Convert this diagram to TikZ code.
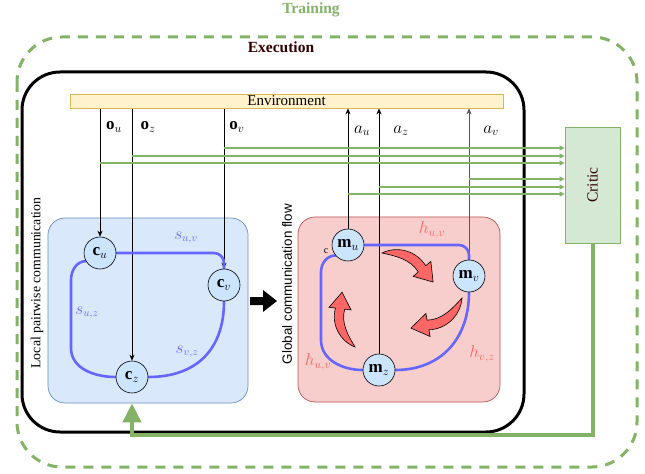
\documentclass[tikz,border=0pt]{standalone}
\usepackage{fontspec}
\setmainfont{Liberation Serif}
\newfontfamily\sansfont{Liberation Sans}
\usetikzlibrary{arrows.meta}
\definecolor{trgreen}{HTML}{82B366}
\definecolor{critfill}{HTML}{D5E8D4}
\definecolor{execcol}{HTML}{330000}
\definecolor{envfill}{HTML}{FFF2CC}
\definecolor{envdraw}{HTML}{D6B656}
\definecolor{bluefill}{HTML}{DAE8FC}
\definecolor{bluedraw}{HTML}{6C8EBF}
\definecolor{redfill}{HTML}{F8CECC}
\definecolor{reddraw}{HTML}{B85450}
\definecolor{agentfill}{HTML}{CCE5FF}
\definecolor{commblue}{HTML}{6666FF}
\definecolor{hred}{HTML}{FF6666}
\definecolor{actgray}{HTML}{555555}
\pgfdeclarelayer{back}
\pgfdeclarelayer{linesa}
\pgfdeclarelayer{linesb}
\pgfsetlayers{back,linesa,linesb,main}
\tikzset{
  curvarrow/.pic={
    \filldraw[fill=hred, draw=black, line width=0.6bp]
      (0,0) .. controls (12,8) and (29,6) .. (38.8,-5.9) -- (42.7,-1.6) -- (47,-19)
      -- (29.3,-16.4) -- (33.2,-12.1) .. controls (25,-2) and (12,-1) .. (0,0) -- cycle;
  }
}
\begin{document}
\begin{tikzpicture}[x=1bp,y=1bp,
  lbl/.style={font=\fontsize{17bp}{19bp}\selectfont, inner sep=0},
  slbl/.style={font=\fontsize{16bp}{18bp}\selectfont, inner sep=0},
  agent/.style={circle, draw=black, line width=0.6bp, fill=agentfill, minimum size=32bp, inner sep=0, font=\fontsize{17bp}{19bp}\selectfont},
  obsarrow/.style={draw=black, line width=0.7bp, -{Stealth[length=6bp,width=5bp]}},
  critarrow/.style={draw=trgreen, line width=1.3bp, -{Triangle[length=5bp,width=5bp]}},
  commline/.style={draw=commblue, line width=2.6bp, line cap=round},
  boxstyle/.style={rounded corners=17bp, minimum width=200bp, minimum height=185bp, inner sep=0, line width=0.7bp}
]
\useasboundingbox (0,0) rectangle (645,-474);

% titles and frames
\node[font=\bfseries\fontsize{15.5bp}{18bp}\selectfont, text=trgreen] (training) at (311,-10) {Training};
\node[font=\bfseries\fontsize{15.5bp}{18bp}\selectfont, text=execcol] (execution) at (281,-47) {Execution};
\begin{pgfonlayer}{back}
\draw[trgreen, line width=3bp, dash pattern=on 10bp off 8bp, rounded corners=45bp] (17,-37) rectangle (637,-467);
\draw[black, line width=3bp, rounded corners=38bp] (22,-72) rectangle (524,-432);
\node[boxstyle, draw=bluedraw, fill=bluefill] (localbox) at (148,-310.5) {};
\node[boxstyle, draw=reddraw, fill=redfill, minimum width=202bp] (globalbox) at (399,-309.5) {};
\end{pgfonlayer}

\node[draw=envdraw, fill=envfill, minimum width=433bp, minimum height=14bp, inner sep=0, line width=0.7bp,
      font=\fontsize{15bp}{17bp}\selectfont] (env) at (286.5,-101) {Environment};
\node[draw=trgreen, fill=critfill, minimum width=55bp, minimum height=116bp, line width=0.8bp] (critic) at (592.5,-185) {};
\node[rotate=90, text=execcol, font=\fontsize{15.5bp}{17bp}\selectfont] (critictext) at (critic.center) {Critic};

\node[rotate=90, font=\fontsize{13.8bp}{16bp}\selectfont] (locallbl) at (37,-283) {Local pairwise communication};
\node[rotate=90, font=\sansfont\fontsize{13.4bp}{16bp}\selectfont] (globallbl) at (287,-284) {Global communication flow};

% agents
\node[agent] (cu) at (100,-253) {$\mathbf{c}_u$};
\node[agent] (cv) at (224,-285) {$\mathbf{c}_v$};
\node[agent] (cz) at (132,-377) {$\mathbf{c}_z$};
\node[agent] (mu) at (348,-245) {$\mathbf{m}_u$};
\node[agent] (mv) at (469,-276) {$\mathbf{m}_v$};
\node[agent] (mz) at (379,-370) {$\mathbf{m}_z$};

% observation / action lines
\begin{pgfonlayer}{linesa}
\draw[obsarrow] (env.south -| cu) -- (cu.north);
\draw[obsarrow] (env.south -| cz) -- (cz.north);
\draw[obsarrow] (env.south -| cv) -- (cv.north);
\draw[obsarrow] (mu.north) -- (env.south -| mu);
\draw[obsarrow] (mz.north) -- (env.south -| mz);
\draw[obsarrow, draw=actgray] (mv.north) -- (env.south -| mv);
\end{pgfonlayer}

\node[lbl] (ou) at (114,-127) {$\mathbf{o}_u$};
\node[lbl] (oz) at (148,-127) {$\mathbf{o}_z$};
\node[lbl] (ov) at (237,-127) {$\mathbf{o}_v$};
\node[lbl] (au) at (362,-131) {$a_u$};
\node[lbl] (az) at (401,-131) {$a_z$};
\node[lbl] (av) at (491,-131) {$a_v$};

% green critic lines
\coordinate (g1) at (0,-148);
\coordinate (g2) at (0,-156);
\coordinate (g3) at (0,-163);
\coordinate (g4) at (0,-179);
\coordinate (g5) at (0,-187);
\coordinate (g6) at (0,-194);
\coordinate (fb) at (0,-435);
\begin{pgfonlayer}{linesb}
\draw[critarrow] (cv |- g1) -- (critic.west |- g1);
\draw[critarrow] (cz |- g2) -- (critic.west |- g2);
\draw[critarrow] (cu |- g3) -- (critic.west |- g3);
\draw[critarrow] (mv |- g4) -- (critic.west |- g4);
\draw[critarrow] (mz |- g5) -- (critic.west |- g5);
\draw[critarrow] (mu |- g6) -- (critic.west |- g6);
\draw[trgreen, line width=4bp, -{Triangle[length=19bp,width=18bp]}]
  (critic.south) -- (critic.south |- fb) -- (cz |- fb) -- (cz |- localbox.south);

% communication lines
\draw[commline, rounded corners=10bp] (cu.east) -- (cv.north |- cu.east) -- (cv.north);
\draw[commline] (cu.210) to[out=180,in=90] (71,-280) -- (71,-348) to[out=-90,in=180] (cz.west);
\draw[commline] (cz.east) to[out=0,in=-90,looseness=1.15] (cv.south);
\draw[commline, rounded corners=10bp] (mu.east) -- (mv.north |- mu.east) -- (mv.north);
\draw[commline] (mu.220) to[out=180,in=90] (321,-272) -- (321,-340) to[out=-90,in=180] (mz.west);
\draw[commline] (mz.east) to[out=0,in=-90,looseness=1.1] (mv.south);
\end{pgfonlayer}

\node[slbl, text=commblue] (suv) at (186,-238) {$s_{u,v}$};
\node[slbl, text=commblue] (suz) at (87,-313) {$s_{u,z}$};
\node[slbl, text=commblue] (svz) at (187,-352) {$s_{v,z}$};
\node[lbl, text=hred] (huv) at (432,-230) {$h_{u,v}$};
\node[lbl, text=hred] (huvb) at (318,-362) {$h_{u,v}$};
\node[lbl, text=hred] (hvz) at (482,-354) {$h_{v,z}$};
\node[font=\fontsize{10bp}{11bp}\selectfont, inner sep=0] (cmark) at (326,-251) {c};

% curved red arrows
\pic[rotate=-7.6, scale=1.16] at (382,-253) {curvarrow};
\pic[rotate=-127.5, scale=1.17] at (462,-298) {curvarrow};
\pic[rotate=125.3, scale=1.11] at (355,-347) {curvarrow};

% big transition arrow
\fill[black] (250,-297) -- (263,-297) -- (263,-290) -- (277,-301) -- (263,-312) -- (263,-305) -- (250,-305) -- cycle;
\end{tikzpicture}
\end{document}
